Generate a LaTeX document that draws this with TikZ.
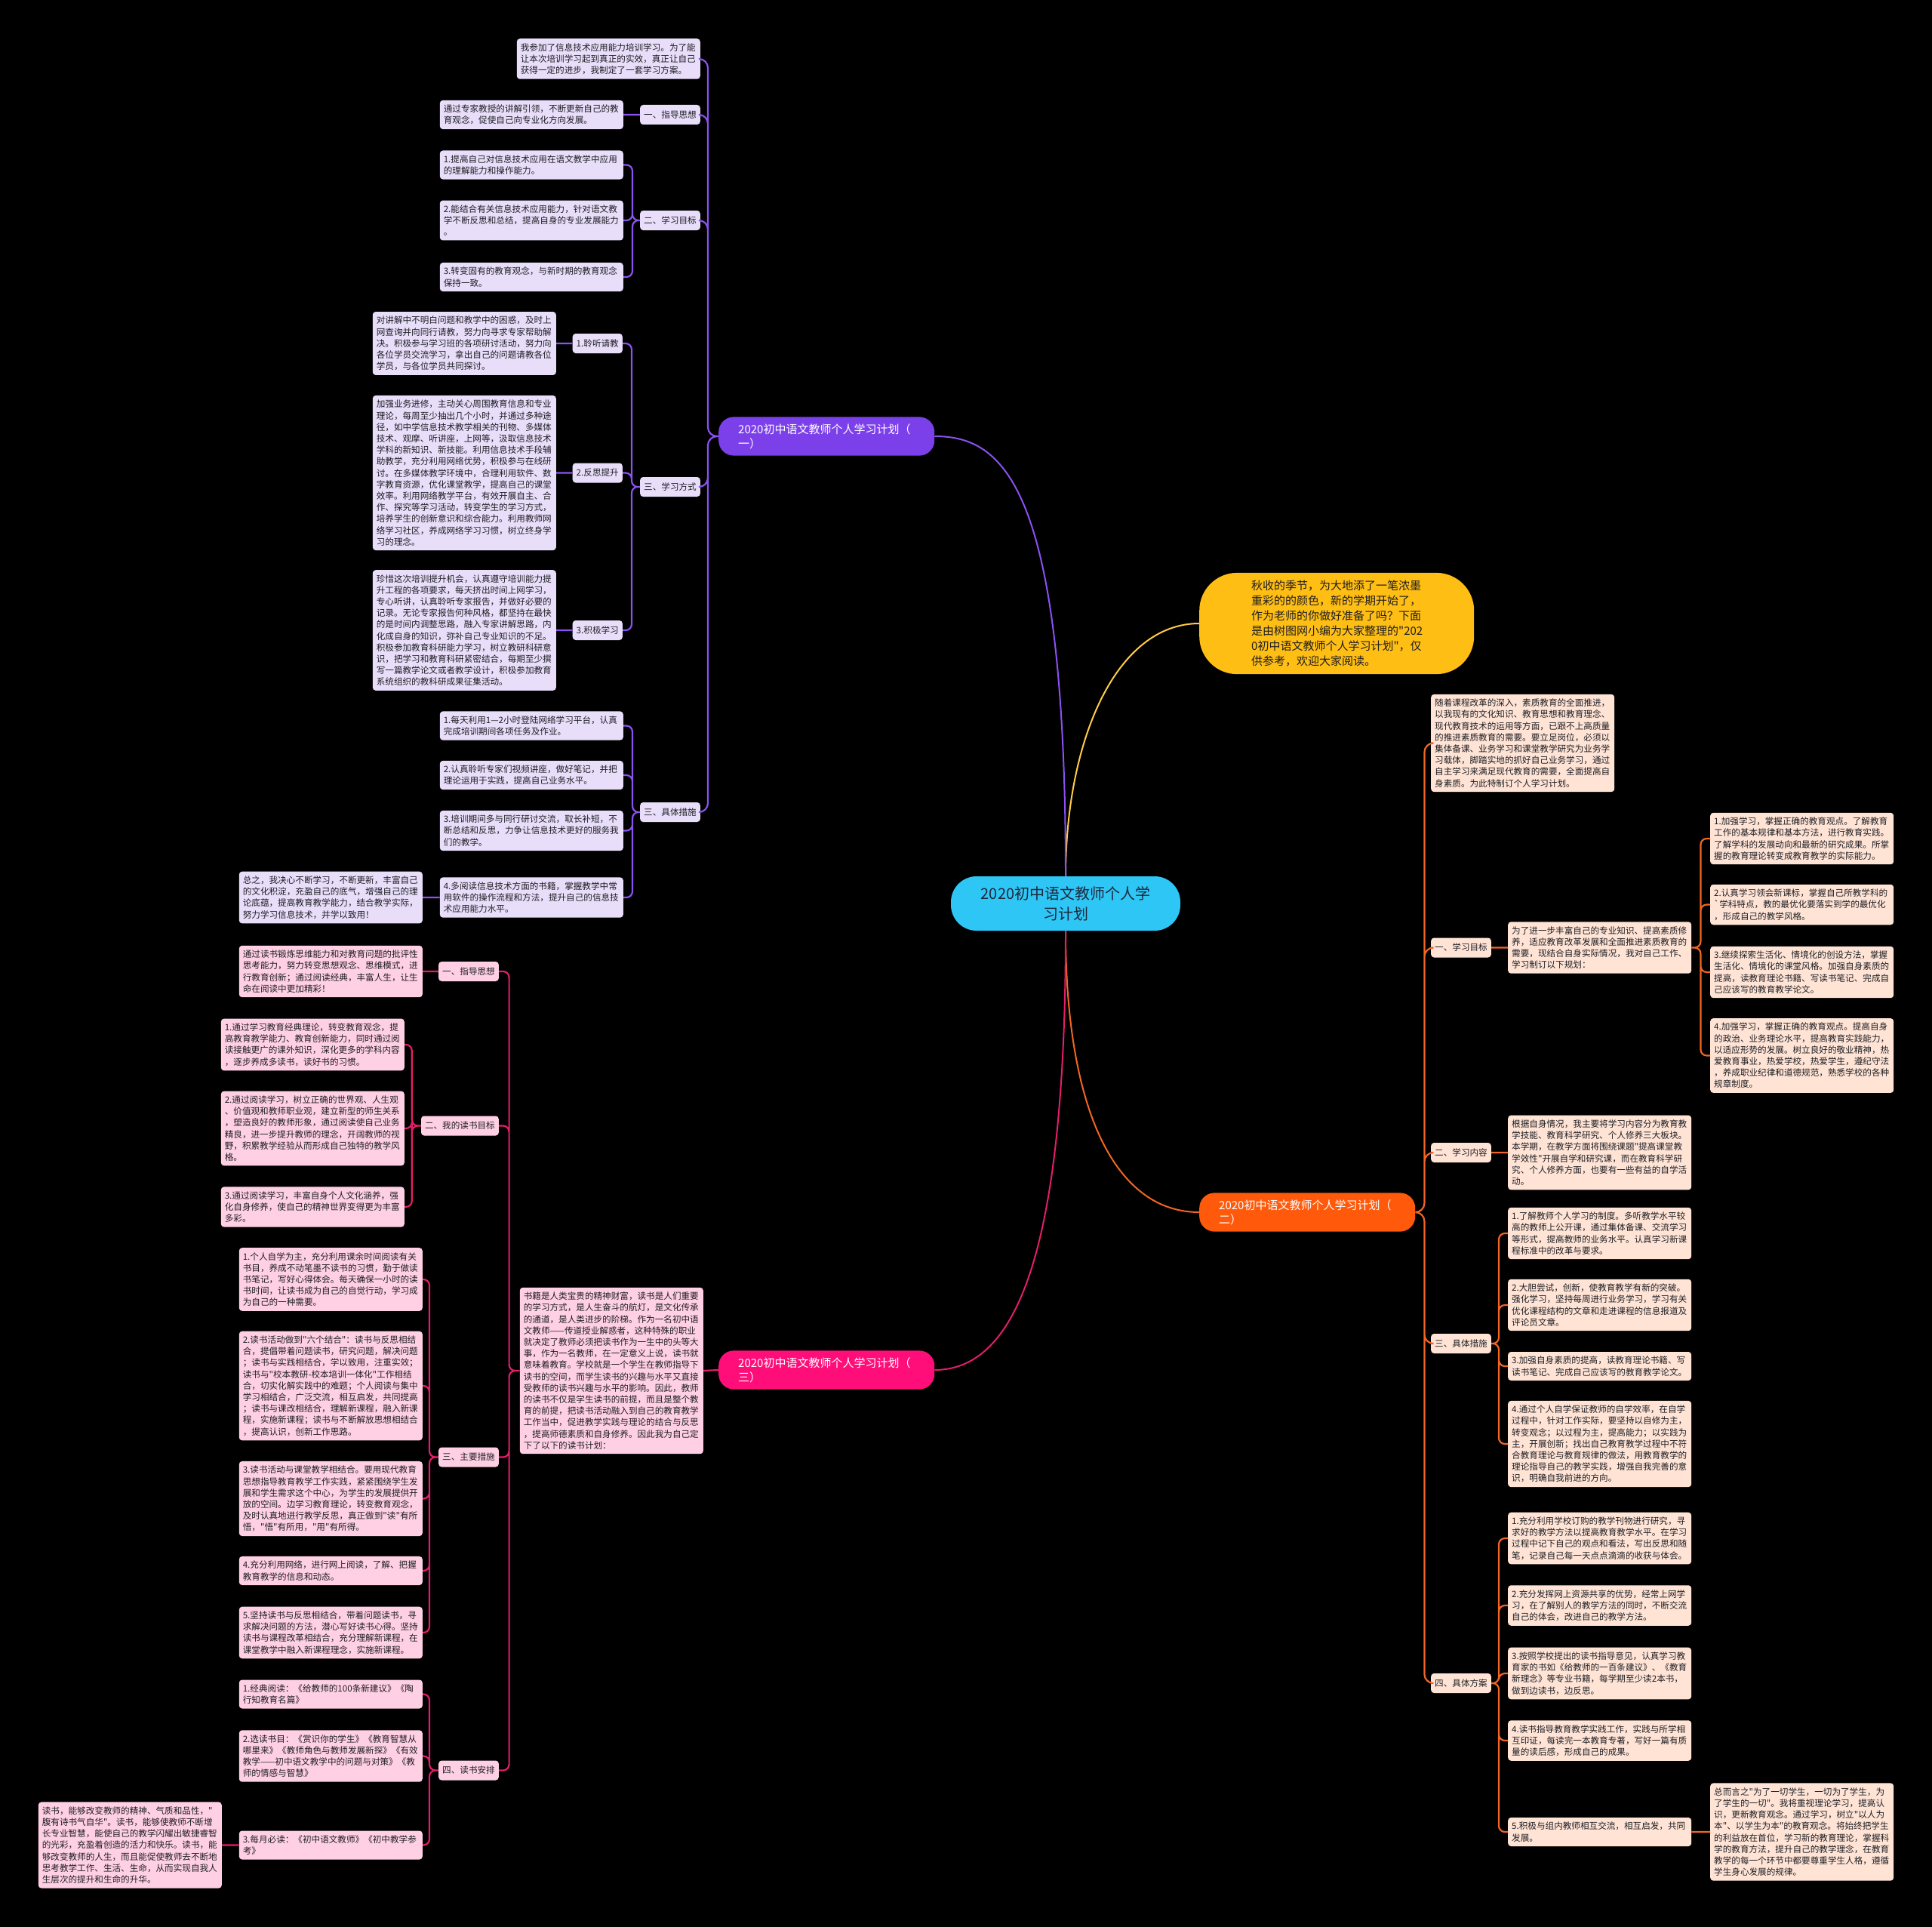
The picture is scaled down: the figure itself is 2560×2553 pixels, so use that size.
\documentclass[tikz,border=0pt]{standalone}
\usepackage{fontspec}
\newfontfamily\cjk{Noto Sans CJK SC}
\usetikzlibrary{positioning}

\definecolor{ink}{RGB}{30,30,35}
\definecolor{sky}{RGB}{46,198,245}
\definecolor{amber}{RGB}{255,190,20}
\definecolor{amberline}{RGB}{255,205,70}
\definecolor{vio}{RGB}{124,64,234}
\definecolor{violine}{RGB}{138,82,240}
\definecolor{lavfill}{RGB}{232,222,250}
\definecolor{tang}{RGB}{255,90,12}
\definecolor{tangline}{RGB}{242,102,36}
\definecolor{peachfill}{RGB}{255,228,214}
\definecolor{rose}{RGB}{255,14,122}
\definecolor{roseline}{RGB}{226,30,106}
\definecolor{blushfill}{RGB}{255,208,228}

\begin{document}
\begin{tikzpicture}[x=1pt, y=-1pt,
  txt/.style={font=\cjk\fontsize{11.6}{15.2}\selectfont, text=ink, rounded corners=4pt, inner xsep=5pt, inner ysep=6pt},
  box/.style={txt, fill=#1, text width=233pt, align=left},
  tag/.style={txt, fill=#1, minimum height=26pt},
  branch/.style={font=\cjk\fontsize{15}{19}\selectfont, text=white, fill=#1, text width=234pt, align=left, inner xsep=26pt, inner ysep=9pt, rounded corners=20pt},
  root/.style={font=\cjk\fontsize{20}{27}\selectfont, text={rgb,255:red,30;green,40;blue,60}, fill=sky, align=center, minimum width=304pt, minimum height=72pt, rounded corners=34pt},
  lead/.style={font=\cjk\fontsize{15}{20}\selectfont, text=ink, fill=amber, text width=226pt, align=left, minimum width=364pt, inner ysep=10pt, rounded corners=50pt},
  link/.style={draw=#1, line width=2.2pt, rounded corners=8pt},
  fork/.style={to path={-- ++(#1,0) |- (\tikztotarget)}}]

\fill[black] (0,0) rectangle (2560,2553);
\useasboundingbox (0,0) rectangle (2560,2553);

\node[root] (root) at (1412,1197) {2020初中语文教师个人学\\习计划};
\node[lead, anchor=west] (lead) at (1589,826) {秋收的季节，为大地添了一笔浓墨\\重彩的的颜色，新的学期开始了，\\作为老师的你做好准备了吗？下面\\是由树图网小编为大家整理的"202\\0初中语文教师个人学习计划"，仅\\供参考，欢迎大家阅读。};
\node[branch=vio, anchor=west] (b1) at (952,578) {2020初中语文教师个人学习计划（\\一）};
\node[branch=tang, anchor=west] (b2) at (1589,1606) {2020初中语文教师个人学习计划（\\二）};
\node[branch=rose, anchor=west] (b3) at (952,1815) {2020初中语文教师个人学习计划（\\三）};

\node[box=lavfill, anchor=east] (p0) at (928,78) {我参加了信息技术应用能力培训学习。为了能\\让本次培训学习起到真正的实效，真正让自己\\获得一定的进步，我制定了一套学习方案。};
\node[tag=lavfill, anchor=east] (p1) at (928,152) {一、指导思想};
\node[box=lavfill, anchor=east] (p1a) at (826,152) {通过专家教授的讲解引领，不断更新自己的教\\育观念，促使自己向专业化方向发展。};
\node[tag=lavfill, anchor=east] (p2) at (928,292) {二、学习目标};
\node[box=lavfill, anchor=east] (p2a) at (826,218.5) {1.提高自己对信息技术应用在语文教学中应用\\的理解能力和操作能力。};
\node[box=lavfill, anchor=east] (p2b) at (826,292) {2.能结合有关信息技术应用能力，针对语文教\\学不断反思和总结，提高自身的专业发展能力\\。};
\node[box=lavfill, anchor=east] (p2c) at (826,367) {3.转变固有的教育观念，与新时期的教育观念\\保持一致。};
\node[tag=lavfill, anchor=east] (p3) at (928,645) {三、学习方式};
\node[tag=lavfill, anchor=east] (p3a) at (825,455) {1.聆听请教};
\node[box=lavfill, anchor=east] (p3at) at (737,455) {对讲解中不明白问题和教学中的困惑，及时上\\网查询并向同行请教，努力向寻求专家帮助解\\决。积极参与学习班的各项研讨活动，努力向\\各位学员交流学习，拿出自己的问题请教各位\\学员，与各位学员共同探讨。};
\node[tag=lavfill, anchor=east] (p3b) at (825,626.5) {2.反思提升};
\node[box=lavfill, anchor=east] (p3bt) at (737,626.5) {加强业务进修，主动关心周围教育信息和专业\\理论，每周至少抽出几个小时，并通过多种途\\径，如中学信息技术教学相关的刊物、多媒体\\技术、观摩、听讲座，上网等，汲取信息技术\\学科的新知识、新技能。利用信息技术手段辅\\助教学，充分利用网络优势，积极参与在线研\\讨。在多媒体教学环境中，合理利用软件、数\\字教育资源，优化课堂教学，提高自己的课堂\\效率。利用网络教学平台，有效开展自主、合\\作、探究等学习活动，转变学生的学习方式，\\培养学生的创新意识和综合能力。利用教师网\\络学习社区，养成网络学习习惯，树立终身学\\习的理念。};
\node[tag=lavfill, anchor=east] (p3c) at (825,835) {3.积极学习};
\node[box=lavfill, anchor=east] (p3ct) at (737,835) {珍惜这次培训提升机会，认真遵守培训能力提\\升工程的各项要求，每天挤出时间上网学习，\\专心听讲，认真聆听专家报告，并做好必要的\\记录。无论专家报告何种风格，都坚持在最快\\的是时间内调整思路，融入专家讲解思路，内\\化成自身的知识，弥补自己专业知识的不足。\\积极参加教育科研能力学习，树立教研科研意\\识，把学习和教育科研紧密结合，每期至少撰\\写一篇教学论文或者教学设计，积极参加教育\\系统组织的教科研成果征集活动。};
\node[tag=lavfill, anchor=east] (p4) at (928,1076) {三、具体措施};
\node[box=lavfill, anchor=east] (p4a) at (826,961.5) {1.每天利用1—2小时登陆网络学习平台，认真\\完成培训期间各项任务及作业。};
\node[box=lavfill, anchor=east] (p4b) at (826,1027) {2.认真聆听专家们视频讲座，做好笔记，并把\\理论运用于实践，提高自己业务水平。};
\node[box=lavfill, anchor=east] (p4c) at (826,1100.5) {3.培训期间多与同行研讨交流，取长补短，不\\断总结和反思，力争让信息技术更好的服务我\\们的教学。};
\node[box=lavfill, anchor=east] (p4d) at (826,1189) {4.多阅读信息技术方面的书籍，掌握教学中常\\用软件的操作流程和方法，提升自己的信息技\\术应用能力水平。};
\node[box=lavfill, anchor=east] (p4e) at (560,1189) {总之，我决心不断学习，不断更新，丰富自己\\的文化积淀，充盈自己的底气，增强自己的理\\论底蕴，提高教育教学能力，结合教学实际，\\努力学习信息技术，并学以致用！};

\node[box=blushfill, anchor=east] (q0) at (932,1816) {书籍是人类宝贵的精神财富，读书是人们重要\\的学习方式，是人生奋斗的航灯，是文化传承\\的通道，是人类进步的阶梯。作为一名初中语\\文教师——传道授业解惑者，这种特殊的职业\\就决定了教师必须把读书作为一生中的头等大\\事，作为一名教师，在一定意义上说，读书就\\意味着教育。学校就是一个学生在教师指导下\\读书的空间，而学生读书的兴趣与水平又直接\\受教师的读书兴趣与水平的影响。因此，教师\\的读书不仅是学生读书的前提，而且是整个教\\育的前提，把读书活动融入到自己的教育教学\\工作当中，促进教学实践与理论的结合与反思\\，提高师德素质和自身修养。因此我为自己定\\下了以下的读书计划：};
\node[tag=blushfill, anchor=east] (q1) at (661,1287) {一、指导思想};
\node[box=blushfill, anchor=east] (q1a) at (560,1287) {通过读书锻炼思维能力和对教育问题的批评性\\思考能力，努力转变思想观念、思维模式，进\\行教育创新；通过阅读经典，丰富人生，让生\\命在阅读中更加精彩！};
\node[tag=blushfill, anchor=east] (q2) at (661,1491.5) {二、我的读书目标};
\node[box=blushfill, anchor=east] (q2a) at (536,1384) {1.通过学习教育经典理论，转变教育观念，提\\高教育教学能力、教育创新能力，同时通过阅\\读接触更广的课外知识，深化更多的学科内容\\，逐步养成多读书，读好书的习惯。};
\node[box=blushfill, anchor=east] (q2b) at (536,1495) {2.通过阅读学习，树立正确的世界观、人生观\\、价值观和教师职业观，建立新型的师生关系\\，塑造良好的教师形象，通过阅读使自己业务\\精良，进一步提升教师的理念，开阔教师的视\\野，积累教学经验从而形成自己独特的教学风\\格。};
\node[box=blushfill, anchor=east] (q2c) at (536,1599) {3.通过阅读学习，丰富自身个人文化涵养，强\\化自身修养，使自己的精神世界变得更为丰富\\多彩。};
\node[tag=blushfill, anchor=east] (q3) at (661,1930.5) {三、主要措施};
\node[box=blushfill, anchor=east] (q3a) at (560,1695) {1.个人自学为主，充分利用课余时间阅读有关\\书目，养成不动笔墨不读书的习惯，勤于做读\\书笔记，写好心得体会。每天确保一小时的读\\书时间，让读书成为自己的自觉行动，学习成\\为自己的一种需要。};
\node[box=blushfill, anchor=east] (q3b) at (560,1836) {2.读书活动做到"六个结合"：读书与反思相结\\合，提倡带着问题读书，研究问题，解决问题\\；读书与实践相结合，学以致用，注重实效；\\读书与"校本教研-校本培训一体化"工作相结\\合，切实化解实践中的难题；个人阅读与集中\\学习相结合，广泛交流，相互启发，共同提高\\；读书与课改相结合，理解新课程，融入新课\\程，实施新课程；读书与不断解放思想相结合\\，提高认识，创新工作思路。};
\node[box=blushfill, anchor=east] (q3c) at (560,1985.5) {3.读书活动与课堂教学相结合。要用现代教育\\思想指导教育教学工作实践，紧紧围绕学生发\\展和学生需求这个中心，为学生的发展提供开\\放的空间。边学习教育理论，转变教育观念，\\及时认真地进行教学反思，真正做到"读"有所\\悟，"悟"有所用，"用"有所得。};
\node[box=blushfill, anchor=east] (q3d) at (560,2081) {4.充分利用网络，进行网上阅读，了解、把握\\教育教学的信息和动态。};
\node[box=blushfill, anchor=east] (q3e) at (560,2163) {5.坚持读书与反思相结合，带着问题读书，寻\\求解决问题的方法，潜心写好读书心得。坚持\\读书与课程改革相结合，充分理解新课程，在\\课堂教学中融入新课程理念，实施新课程。};
\node[tag=blushfill, anchor=east] (q4) at (661,2345.5) {四、读书安排};
\node[box=blushfill, anchor=east] (q4a) at (560,2244.5) {1.经典阅读：《给教师的100条新建议》《陶\\行知教育名篇》};
\node[box=blushfill, anchor=east] (q4b) at (560,2326.5) {2.选读书目：《赏识你的学生》《教育智慧从\\哪里来》《教师角色与教师发展新探》《有效\\教学——初中语文教学中的问题与对策》《教\\师的情感与智慧》};
\node[box=blushfill, anchor=east] (q4c) at (560,2444.5) {3.每月必读：《初中语文教师》《初中教学参\\考》};
\node[box=blushfill, anchor=east] (q4d) at (294,2444.5) {读书，能够改变教师的精神、气质和品性，"\\腹有诗书气自华"。读书，能够使教师不断增\\长专业智慧，能使自己的教学闪耀出敏捷睿智\\的光彩，充盈着创造的活力和快乐。读书，能\\够改变教师的人生，而且能促使教师去不断地\\思考教学工作、生活、生命，从而实现自我人\\生层次的提升和生命的升华。};

\node[box=peachfill, anchor=west] (o0) at (1896,984.5) {随着课程改革的深入，素质教育的全面推进，\\以我现有的文化知识、教育思想和教育理念、\\现代教育技术的运用等方面，已跟不上高质量\\的推进素质教育的需要。要立足岗位，必须以\\集体备课、业务学习和课堂教学研究为业务学\\习载体，脚踏实地的抓好自己业务学习，通过\\自主学习来满足现代教育的需要，全面提高自\\身素质。为此特制订个人学习计划。};
\node[tag=peachfill, anchor=west] (o1) at (1896,1255.5) {一、学习目标};
\node[box=peachfill, anchor=west] (o1t) at (1998,1255.5) {为了进一步丰富自己的专业知识、提高素质修\\养，适应教育改革发展和全面推进素质教育的\\需要，现结合自身实际情况，我对自己工作、\\学习制订以下规划：};
\node[box=peachfill, anchor=west] (o1a) at (2266,1111) {1.加强学习，掌握正确的教育观点。了解教育\\工作的基本规律和基本方法，进行教育实践。\\了解学科的发展动向和最新的研究成果。所掌\\握的教育理论转变成教育教学的实际能力。};
\node[box=peachfill, anchor=west] (o1b) at (2266,1198.5) {2.认真学习领会新课标，掌握自己所教学科的\\`学科特点，教的最优化要落实到学的最优化\\，形成自己的教学风格。};
\node[box=peachfill, anchor=west] (o1c) at (2266,1288) {3.继续探索生活化、情境化的创设方法，掌握\\生活化、情境化的课堂风格。加强自身素质的\\提高，读教育理论书籍、写读书笔记、完成自\\己应该写的教育教学论文。};
\node[box=peachfill, anchor=west] (o1d) at (2266,1398.5) {4.加强学习，掌握正确的教育观点。提高自身\\的政治、业务理论水平，提高教育实践能力，\\以适应形势的发展。树立良好的敬业精神，热\\爱教育事业，热爱学校，热爱学生，遵纪守法\\，养成职业纪律和道德规范，熟悉学校的各种\\规章制度。};
\node[tag=peachfill, anchor=west] (o2) at (1896,1527) {二、学习内容};
\node[box=peachfill, anchor=west] (o2t) at (1998,1527) {根据自身情况，我主要将学习内容分为教育教\\学技能、教育科学研究、个人修养三大板块。\\本学期，在教学方面将围绕课题"提高课堂教\\学效性"开展自学和研究课，而在教育科学研\\究、个人修养方面，也要有一些有益的自学活\\动。};
\node[tag=peachfill, anchor=west] (o3) at (1896,1780) {三、具体措施};
\node[box=peachfill, anchor=west] (o3a) at (1998,1634) {1.了解教师个人学习的制度。多听教学水平较\\高的教师上公开课，通过集体备课、交流学习\\等形式，提高教师的业务水平。认真学习新课\\程标准中的改革与要求。};
\node[box=peachfill, anchor=west] (o3b) at (1998,1729) {2.大胆尝试，创新，使教育教学有新的突破。\\强化学习，坚持每周进行业务学习，学习有关\\优化课程结构的文章和走进课程的信息报道及\\评论员文章。};
\node[box=peachfill, anchor=west] (o3c) at (1998,1810) {3.加强自身素质的提高，读教育理论书籍、写\\读书笔记、完成自己应该写的教育教学论文。};
\node[box=peachfill, anchor=west] (o3d) at (1998,1913) {4.通过个人自学保证教师的自学效率，在自学\\过程中，针对工作实际，要坚持以自修为主，\\转变观念；以过程为主，提高能力；以实践为\\主，开展创新；找出自己教育教学过程中不符\\合教育理论与教育规律的做法，用教育教学的\\理论指导自己的教学实践，增强自我完善的意\\识，明确自我前进的方向。};
\node[tag=peachfill, anchor=west] (o4) at (1896,2230) {四、具体方案};
\node[box=peachfill, anchor=west] (o4a) at (1998,2038) {1.充分利用学校订购的教学刊物进行研究，寻\\求好的教学方法以提高教育教学水平。在学习\\过程中记下自己的观点和看法，写出反思和随\\笔，记录自己每一天点点滴滴的收获与体会。};
\node[box=peachfill, anchor=west] (o4b) at (1998,2127) {2.充分发挥网上资源共享的优势，经常上网学\\习，在了解别人的教学方法的同时，不断交流\\自己的体会，改进自己的教学方法。};
\node[box=peachfill, anchor=west] (o4c) at (1998,2217) {3.按照学校提出的读书指导意见，认真学习教\\育家的书如《给教师的一百条建议》、《教育\\新理念》等专业书籍，每学期至少读2本书，\\做到边读书，边反思。};
\node[box=peachfill, anchor=west] (o4d) at (1998,2306) {4.读书指导教育教学实践工作，实践与所学相\\互印证，每读完一本教育专著，写好一篇有质\\量的读后感，形成自己的成果。};
\node[box=peachfill, anchor=west] (o4e) at (1998,2427) {5.积极与组内教师相互交流，相互启发，共同\\发展。};
\node[box=peachfill, anchor=west] (o4f) at (2266,2427) {总而言之"为了一切学生，一切为了学生，为\\了学生的一切"。我将重视理论学习，提高认\\识，更新教育观念。通过学习，树立"以人为\\本"、以学生为本"的教育观念。将始终把学生\\的利益放在首位，学习新的教育理论，掌握科\\学的教育方法，提升自己的教学理念，在教育\\教学的每一个环节中都要尊重学生人格，遵循\\学生身心发展的规律。};

\draw[line width=2pt, amberline] (root.north) .. controls +(0,-180) and +(-110,0) .. (lead.west);
\draw[line width=2pt, violine] (root.north) .. controls +(0,-520) and +(90,0) .. (b1.east);
\draw[line width=2pt, tangline] (root.south) .. controls +(0,240) and +(-110,0) .. (b2.west);
\draw[line width=2pt, roseline] (root.south) .. controls +(0,420) and +(110,0) .. (b3.east);

\draw[link=violine, rounded corners=12pt]
  (b1.west) to[fork=-14] (p0.east) (b1.west) to[fork=-14] (p1.east)
  (b1.west) to[fork=-14] (p2.east) (b1.west) to[fork=-14] (p3.east)
  (b1.west) to[fork=-14] (p4.east);
\draw[link=violine]
  (p1.west) -- (p1a.east)
  (p2.west) to[fork=-10] (p2a.east) (p2.west) to[fork=-10] (p2b.east) (p2.west) to[fork=-10] (p2c.east)
  (p3.west) to[fork=-11] (p3a.east) (p3.west) to[fork=-11] (p3b.east) (p3.west) to[fork=-11] (p3c.east)
  (p3a.west) -- (p3at.east) (p3b.west) -- (p3bt.east) (p3c.west) -- (p3ct.east)
  (p4.west) to[fork=-10] (p4a.east) (p4.west) to[fork=-10] (p4b.east)
  (p4.west) to[fork=-10] (p4c.east) (p4.west) to[fork=-10] (p4d.east)
  (p4d.west) -- (p4e.east);

\draw[link=roseline]
  (b3.west) -- (q0.east)
  (q0.west) to[fork=-14] (q1.east) (q0.west) to[fork=-14] (q2.east)
  (q0.west) to[fork=-14] (q3.east) (q0.west) to[fork=-14] (q4.east)
  (q1.west) -- (q1a.east)
  (q2.west) to[fork=-12] (q2a.east) (q2.west) to[fork=-12] (q2b.east) (q2.west) to[fork=-12] (q2c.east)
  (q3.west) to[fork=-12] (q3a.east) (q3.west) to[fork=-12] (q3b.east) (q3.west) to[fork=-12] (q3c.east)
  (q3.west) to[fork=-12] (q3d.east) (q3.west) to[fork=-12] (q3e.east)
  (q4.west) to[fork=-12] (q4a.east) (q4.west) to[fork=-12] (q4b.east) (q4.west) to[fork=-12] (q4c.east)
  (q4c.west) -- (q4d.east);

\draw[link=tangline, rounded corners=12pt]
  (b2.east) to[fork=12] (o0.west) (b2.east) to[fork=12] (o1.west)
  (b2.east) to[fork=12] (o2.west) (b2.east) to[fork=12] (o3.west)
  (b2.east) to[fork=12] (o4.west);
\draw[link=tangline]
  (o1.east) -- (o1t.west)
  (o1t.east) to[fork=12] (o1a.west) (o1t.east) to[fork=12] (o1b.west)
  (o1t.east) to[fork=12] (o1c.west) (o1t.east) to[fork=12] (o1d.west)
  (o2.east) -- (o2t.west)
  (o3.east) to[fork=10] (o3a.west) (o3.east) to[fork=10] (o3b.west)
  (o3.east) to[fork=10] (o3c.west) (o3.east) to[fork=10] (o3d.west)
  (o4.east) to[fork=10] (o4a.west) (o4.east) to[fork=10] (o4b.west)
  (o4.east) to[fork=10] (o4c.west) (o4.east) to[fork=10] (o4d.west)
  (o4.east) to[fork=10] (o4e.west)
  (o4e.east) -- (o4f.west);
\end{tikzpicture}
\end{document}
